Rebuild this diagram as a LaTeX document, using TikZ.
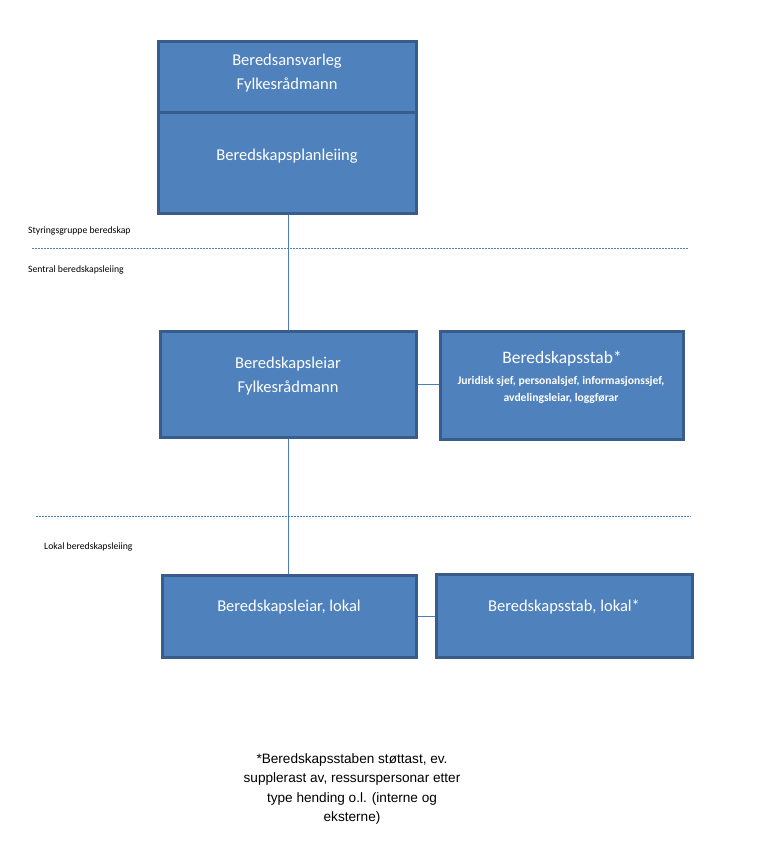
\documentclass[tikz,border=0pt]{standalone}
\usepackage{fontspec}
\setmainfont{Carlito}
\newfontfamily\arialf{Liberation Sans}
\definecolor{boxfill}{HTML}{4F81BD}
\definecolor{boxline}{HTML}{385D8A}
\definecolor{conn}{HTML}{4A7EBB}
\begin{document}
\begin{tikzpicture}[x=1pt,y=-1pt,
  box/.style={draw=boxline,line width=3pt,fill=boxfill,inner sep=0pt},
  boxtext/.style={text=white,font=\fontsize{16.5}{23.5}\selectfont,align=center,inner sep=0pt},
  smalltext/.style={font=\fontsize{9.7}{11}\selectfont,anchor=west,inner sep=0pt},
  conline/.style={draw=conn,line width=0.8pt},
  sepline/.style={draw=conn,line width=0.6pt,dash pattern=on 2pt off 1pt}]
\useasboundingbox (0,0) rectangle (764,851);
% top boxes
\node[box,minimum width=258pt,minimum height=70pt] (top1) at (287,77) {};
\node[box,minimum width=258pt,minimum height=101pt] (top2) at (287,162.5) {};
\node[boxtext] (t1) at (287,73) {Beredsansvarleg\\Fylkesrådmann};
\node[boxtext] (t2) at (287,156) {Beredskapsplanleiing};
% middle
\node[box,minimum width=256pt,minimum height=106pt] (mid) at (288,384) {};
\node[box,minimum width=243pt,minimum height=108pt] (stab) at (561.5,385) {};
\node[boxtext] (t3) at (288,376) {Beredskapsleiar\\Fylkesrådmann};
\node[boxtext,font=\fontsize{17.5}{19}\selectfont] (t4) at (562,359) {Beredskapsstab*};
\node[boxtext,font=\bfseries\fontsize{11.6}{17}\selectfont] (t5) at (561,390) {Juridisk sjef, personalsjef, informasjonssjef,\\avdelingsleiar, loggførar};
% bottom
\node[box,minimum width=254pt,minimum height=82pt] (loc) at (289,616) {};
\node[box,minimum width=256pt,minimum height=83pt] (locstab) at (564,615.5) {};
\node[boxtext] (t6) at (289,607) {Beredskapsleiar, lokal};
\node[boxtext] (t7) at (564,607) {Beredskapsstab, lokal*};
% connectors
\draw[conline] (top2.south -| mid.north) -- (mid.north);
\draw[conline] (mid.south) -- (loc.north -| mid.south);
\draw[conline] (mid.east) -- (mid.east -| stab.west);
\draw[conline] (loc.east) -- (loc.east -| locstab.west);
% separators
\coordinate (s1a) at (32,248);
\coordinate (s1b) at (688,248);
\coordinate (s2a) at (36,516);
\coordinate (s2b) at (691,516);
\draw[sepline] (s1a) -- (s1b);
\draw[sepline] (s2a) -- (s2b);
% level labels
\node[smalltext] (l1) at (28,231) {Styringsgruppe beredskap};
\node[smalltext] (l2) at (28,270) {Sentral beredskapsleiing};
\node[smalltext] (l3) at (44,547) {Lokal beredskapsleiing};
% footnote
\node[align=center,inner sep=0pt,font=\arialf\fontsize{13.6}{19.2}\selectfont] (fn) at (352,789) {*Beredskapsstaben støttast, ev.\\supplerast av, ressurspersonar etter\\type hending o.l. (interne og\\eksterne)};
\end{tikzpicture}
\end{document}
